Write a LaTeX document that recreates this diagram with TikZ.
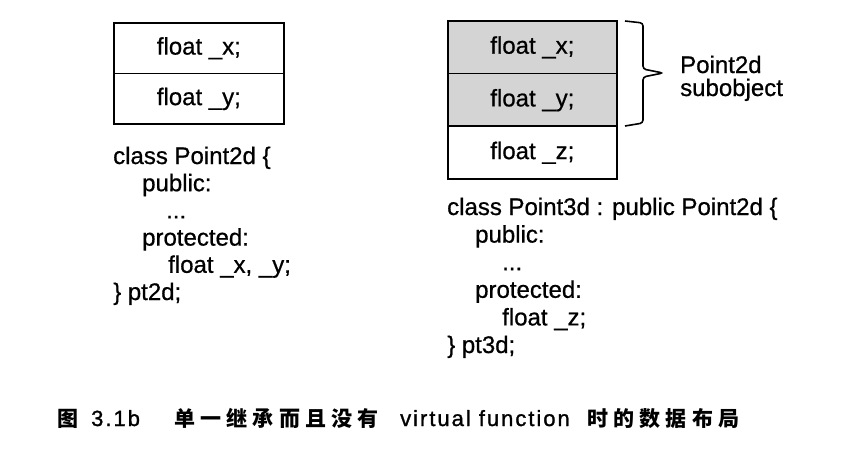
\documentclass[tikz,border=0pt]{standalone}
\usepackage{fontspec}
\setmainfont{Liberation Sans}[FakeBold=0.7]
\newfontfamily\cjk[LetterSpace=25]{Noto Sans CJK SC}
\newfontfamily\capfont[LetterSpace=9,FakeBold=1.2]{Liberation Sans}
\tikzset{
  cell/.style={draw=black, line width=1.7pt, rectangle, inner sep=0pt,
    minimum height=52.7pt, minimum width=169pt, anchor=north west,
    text height=13pt, text depth=0pt, font=\fontsize{24}{28}\selectfont},
  shaded/.style={cell, fill=black!17},
  code/.style={anchor=base west, inner sep=0pt, font=\fontsize{24}{28}\selectfont},
  captext/.style={anchor=base west, inner sep=0pt},
  bracepath/.style={draw=black, line width=1.6pt, rounded corners=3pt}
}
\begin{document}
\begin{tikzpicture}[x=1pt,y=-1pt]
\useasboundingbox (0,0) rectangle (862,450);
% left object
\node[cell, minimum width=170pt, minimum height=50.5pt] (lx) at (113,22) {float \_x;};
\node[cell, minimum width=170pt, minimum height=50.5pt] (ly) at (113,72.5) {float \_y;};
% right object
\node[shaded] (rx) at (447,20) {float \_x;};
\node[shaded] (ry) at (447,72.7) {float \_y;};
\node[cell] (rz) at (447,125.4) {float \_z;};
% brace
\coordinate (b1) at (625,21);
\coordinate (b2) at (643,23);
\coordinate (b3) at (643,69);
\coordinate (bt) at (663,73);
\coordinate (b4) at (643,77);
\coordinate (b5) at (643,123);
\coordinate (b6) at (625,126);
\draw[bracepath] (b1) -- (b2) -- (b3) -- (bt) -- (b4) -- (b5) -- (b6);
\node[code] (p2d) at (680,73) {Point2d};
\node[code] (sub) at (680,96) {subobject};
% left code
\node[code] (l1) at (113,164) {class Point2d \{};
\node[code] (l2) at (142,191.2) {public:};
\node[code] (l3) at (166,218.4) {...};
\node[code] (l4) at (142,245.6) {protected:};
\node[code] (l5) at (168,272.8) {float \_x, \_y;};
\node[code] (l6) at (113,300) {\} pt2d;};
% right code
\node[code] (r1) at (447,215) {class Point3d : public Point2d \{};
\node[code] (r2) at (475,242.6) {public:};
\node[code] (r3) at (502,270.2) {...};
\node[code] (r4) at (475,297.8) {protected:};
\node[code] (r5) at (502,325.4) {float \_z;};
\node[code] (r6) at (447,353) {\} pt3d;};
% caption
\node[captext, font=\cjk\bfseries\fontsize{21}{24}\selectfont] (c1) at (57,426) {图};
\node[captext, font=\capfont\fontsize{22}{24}\selectfont] (c2) at (91,426) {3.1b};
\node[captext, font=\cjk\bfseries\fontsize{21}{24}\selectfont] (c3) at (174,426) {单一继承而且没有};
\node[captext, font=\capfont\fontsize{22}{24}\selectfont] (c4) at (400,426) {virtual function};
\node[captext, font=\cjk\bfseries\fontsize{21}{24}\selectfont] (c5) at (587,426) {时的数据布局};
\end{tikzpicture}
\end{document}
